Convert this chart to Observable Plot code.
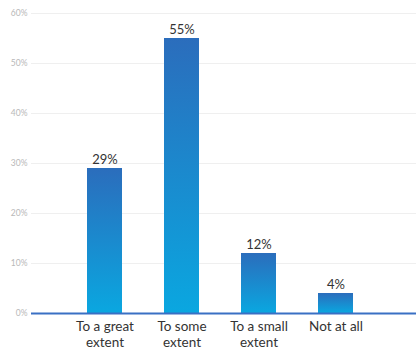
<!DOCTYPE html>
<html>
<head>
<meta charset="utf-8">
<script src="https://cdn.jsdelivr.net/npm/d3@7"></script>
<script src="https://cdn.jsdelivr.net/npm/@observablehq/plot@0.6"></script>
<style>
  html, body { margin: 0; padding: 0; background: #fff; }
  #chart svg { display: block; }
</style>
</head>
<body>
<div id="chart"></div>
<script>
const categories = ["To a great extent", "To some extent", "To a small extent", "Not at all"];
const labelLines = [["To a great", "extent"], ["To some", "extent"], ["To a small", "extent"], ["Not at all"]];
const values = [29, 55, 12, 4];
const yTicks = [0, 10, 20, 30, 40, 50, 60];

const data = categories.map((c, i) => ({category: c, value: values[i], label: labelLines[i].join("\n")}));

const chart = Plot.plot({
  width: 416,
  height: 355,
  marginLeft: 31,
  marginRight: 0,
  marginTop: 13,
  marginBottom: 42,
  style: {fontFamily: "Lato, 'Open Sans', sans-serif", background: "#fff"},
  x: {domain: categories, paddingInner: 0.548, paddingOuter: 0.758, align: 0.468, axis: null},
  y: {domain: [0, 60], axis: null},
  marks: [
    Plot.ruleY(yTicks.filter(d => d > 0), {stroke: "#efefef", strokeWidth: 1}),
    Plot.text(yTicks, {y: d => d, text: d => d + "%", frameAnchor: "left", dx: -4, textAnchor: "end", fill: "#b8b8b8", fontSize: 8.5}),
    Plot.barY(data, {x: "category", y: "value", fill: "url(#barGrad)"}),
    Plot.ruleY([0], {stroke: "#3a70c4", strokeWidth: 2}),
    Plot.text(data, {x: "category", y: "value", text: d => d.value + "%", dy: -9, fill: "#333", fontSize: 13}),
    Plot.text(data, {x: "category", y: 0, text: "label", dy: 6, lineAnchor: "top", fill: "#333", fontSize: 13.5, lineHeight: 1.2})
  ]
});

const ns = "http://www.w3.org/2000/svg";
const defs = document.createElementNS(ns, "defs");
defs.innerHTML = `<linearGradient id="barGrad" x1="0" y1="0" x2="0" y2="1">
  <stop offset="0" stop-color="#2b6dbc"/>
  <stop offset="1" stop-color="#0aa7e0"/>
</linearGradient>`;
chart.insertBefore(defs, chart.firstChild);

document.getElementById("chart").appendChild(chart);
</script>
</body>
</html>
